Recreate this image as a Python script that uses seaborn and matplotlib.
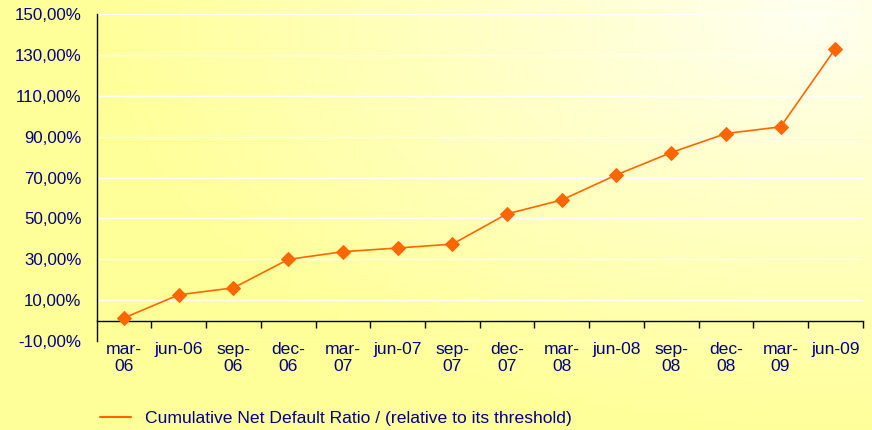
import numpy as np
import pandas as pd
import matplotlib
matplotlib.use("Agg")
import matplotlib.pyplot as plt
from matplotlib.lines import Line2D
from matplotlib.ticker import FuncFormatter
import seaborn as sns

# ---------------------------------------------------------
# Datos
# ---------------------------------------------------------
periodos = ["mar-06", "jun-06", "sep-06", "dec-06", "mar-07", "jun-07", "sep-07",
            "dec-07", "mar-08", "jun-08", "sep-08", "dec-08", "mar-09", "jun-09"]
etiquetas = ["mar-\n06", "jun-06", "sep-\n06", "dec-\n06", "mar-\n07", "jun-07", "sep-\n07",
             "dec-\n07", "mar-\n08", "jun-08", "sep-\n08", "dec-\n08", "mar-\n09", "jun-09"]
ratio = [1.3, 12.6, 16.0, 29.9, 33.7, 35.5, 37.4,
         52.2, 59.0, 71.3, 82.2, 91.5, 94.8, 133.0]
serie = "Cumulative Net Default Ratio / (relative to its threshold)"

df = pd.DataFrame({"periodo": periodos, "ratio": ratio})

NAVY = "#000080"
NARANJA = "#FF6600"
FS = 12.6

sns.set_style("white")
plt.rcParams["font.family"] = ["Liberation Sans", "DejaVu Sans"]
plt.rcParams["font.size"] = FS

fig = plt.figure(figsize=(8.72, 4.30), dpi=100)

# ---------------------------------------------------------
# Fondo degradado (amarillo -> casi blanco arriba a la derecha)
# ---------------------------------------------------------
h, w = 430, 872
yy, xx = np.mgrid[0:h, 0:w]
d = np.sqrt(((xx - 810) / 720.0) ** 2 + ((yy - 15) / 420.0) ** 2)
t = np.clip(d, 0, 1) ** 0.9
amarillo = np.array([255, 255, 153]) / 255.0
claro = np.array([255, 255, 242]) / 255.0
img = claro[None, None, :] * (1 - t[..., None]) + amarillo[None, None, :] * t[..., None]
bg = fig.add_axes([0, 0, 1, 1], zorder=-10)
bg.imshow(img, aspect="auto", extent=[0, 1, 0, 1], origin="upper")
bg.axis("off")

# ---------------------------------------------------------
# Grafico principal
# ---------------------------------------------------------
ax = fig.add_axes([0.1109, 0.2070, 0.8784, 0.7604])
ax.set_facecolor("none")

sns.lineplot(data=df, x="periodo", y="ratio", sort=False, ax=ax,
             color=NARANJA, linewidth=1.2, marker="D", markersize=7,
             markeredgecolor=NARANJA, zorder=5)

ax.set_xlim(-0.5, len(periodos) - 0.5)
ax.set_ylim(-10, 150)
ax.set_yticks(np.arange(-10, 151, 20))
ax.yaxis.set_major_formatter(FuncFormatter(lambda v, p: f"{v:.2f}%".replace(".", ",")))
ax.grid(axis="y", color="white", linewidth=1.0)
ax.set_axisbelow(True)

ax.set_xticks(range(len(periodos)))
ax.set_xticklabels(etiquetas, linespacing=1.15)
ax.tick_params(axis="x", length=0, pad=1, colors=NAVY, labelsize=FS)
ax.tick_params(axis="y", length=5, width=1, direction="out", pad=6,
               colors="black", labelcolor=NAVY, labelsize=12.2)
ax.set_xlabel("")
ax.set_ylabel("")

for lado in ["top", "right", "bottom"]:
    ax.spines[lado].set_visible(False)
ax.spines["left"].set_color("black")
ax.spines["left"].set_linewidth(1.0)

# eje x en el cero con marcas entre categorias
eje0 = ax.secondary_xaxis(0, transform=ax.transData)
eje0.set_xticks(np.arange(0.5, len(periodos), 1.0))
eje0.set_xticklabels([])
eje0.tick_params(length=5, width=1, direction="out", colors="black")
eje0.spines["bottom"].set_color("black")
eje0.spines["bottom"].set_linewidth(1.0)

# ---------------------------------------------------------
# Leyenda
# ---------------------------------------------------------
handle = Line2D([], [], color=NARANJA, linewidth=1.5)
fig.legend([handle], [serie], loc="center left", bbox_to_anchor=(0.1147, 1 - 418 / 430),
           frameon=False, borderpad=0, borderaxespad=0, handlelength=1.75,
           handletextpad=0.8, labelcolor=NAVY, fontsize=FS)

fig.savefig("out.png", dpi=100)
